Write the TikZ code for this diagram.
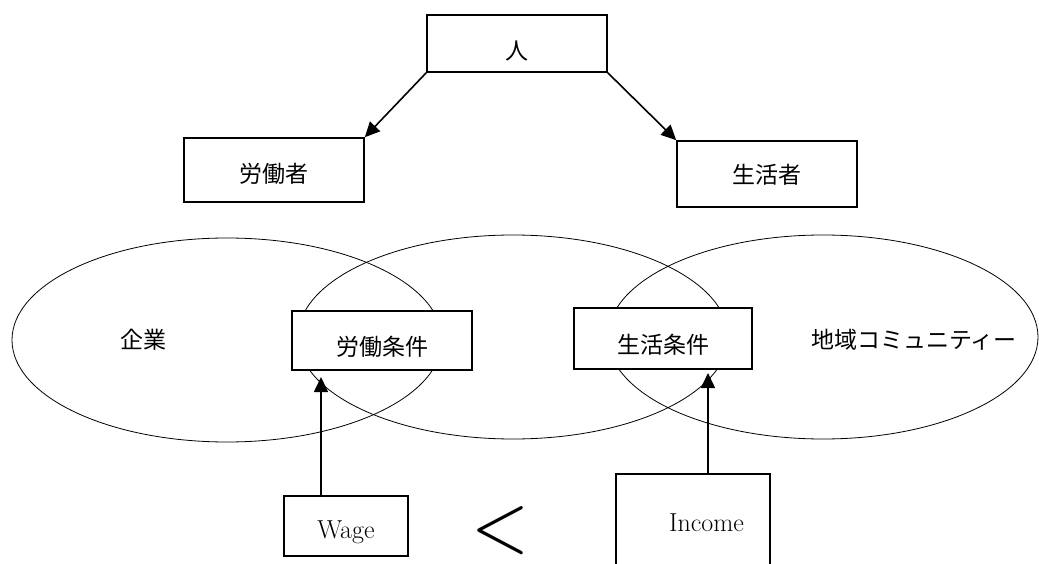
\documentclass[tikz,border=0pt]{standalone}
\usepackage{fontspec}
\usepackage{graphicx}
\newfontfamily\jp{Noto Sans CJK JP}
\usetikzlibrary{arrows.meta,shapes.geometric}
\newcommand\lowr[2]{\raisebox{-#1}[\height][\depth]{#2}}
\begin{document}
\begin{tikzpicture}[x=1pt,y=-1pt,
  box/.style={draw,line width=1.6pt,fill=white,inner sep=0pt,font=\jp\fontsize{23}{23}\selectfont},
  ebox/.style={draw,line width=1.1pt,fill=white,inner sep=0pt,font=\fontsize{26}{26}\selectfont},
  oval/.style={draw,line width=0.8pt,ellipse,minimum width=430pt,minimum height=204pt,inner sep=0pt},
  arr/.style={line width=1.6pt,-{Triangle[length=15pt,width=14pt]}},
  lbl/.style={font=\jp\fontsize{23}{23}\selectfont,inner sep=0pt}
]
\clip (0,0) rectangle (1039,564);
\fill[white] (0,0) rectangle (1039,564);
% ellipses
\node[oval] (e1) at (227,340) {};
\node[oval] (e2) at (513,337) {};
\node[oval] (e3) at (823,337) {};
\node[lbl] (t1) at (143,340) {企業};
\node[lbl] (t3) at (914,340) {地域コミュニティー};
% boxes
\node[box,minimum width=180pt,minimum height=57pt] (hito) at (517,43.5) {\lowr{8pt}{人}};
\node[box,minimum width=180pt,minimum height=64pt] (rou) at (274,170) {\lowr{4pt}{労働者}};
\node[box,minimum width=180pt,minimum height=66pt] (sei) at (767,174) {\lowr{1pt}{生活者}};
\node[box,minimum width=180pt,minimum height=59pt] (rj) at (382,340.5) {\lowr{6.5pt}{労働条件}};
\node[box,minimum width=178pt,minimum height=61pt] (sj) at (663,338.5) {\lowr{6.5pt}{生活条件}};
\node[ebox,minimum width=124pt,minimum height=60pt] (wage) at (346,526) {\lowr{6pt}{Wage}};
\node[ebox,minimum width=154pt,minimum height=166pt] (inc) at (693,557) {\lowr{-34pt}{\hspace*{27pt}Income}};
\node[inner sep=0pt] (lt) at (500,530.5) {\resizebox{58pt}{45pt}{$<$}};
% arrows
\draw[arr] (hito.south west) -- (rou.north east);
\draw[arr] (hito.south east) -- (sei.north west);
\coordinate (w1) at (321,377);
\draw[arr] (wage.north -| w1) -- (w1);
\coordinate (i1) at (708,373);
\draw[arr] (inc.north -| i1) -- (i1);
\end{tikzpicture}
\end{document}
